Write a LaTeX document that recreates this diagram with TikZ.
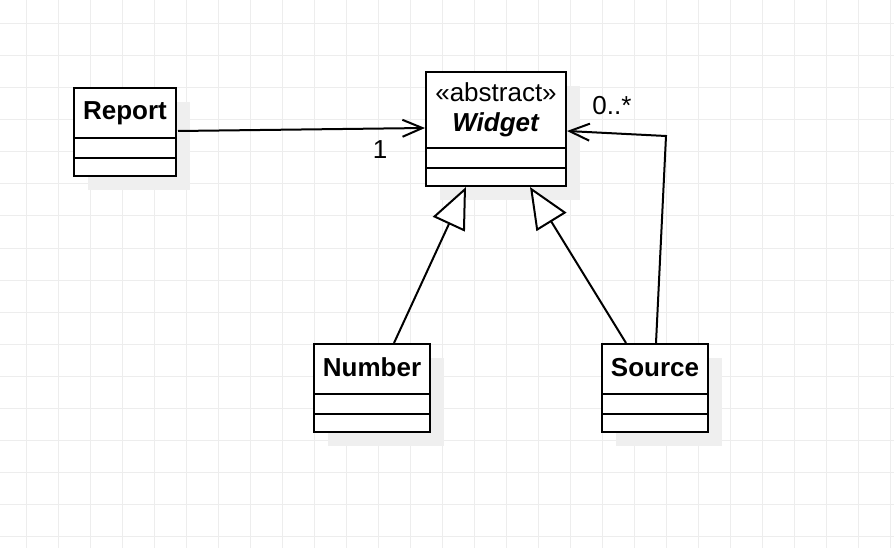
\documentclass[tikz,border=0pt]{standalone}
\usepackage{fontspec}
\setmainfont{Liberation Sans}
\usetikzlibrary{arrows.meta,calc}
\definecolor{gridc}{HTML}{EDEDED}
\definecolor{shadowc}{HTML}{EFEFEF}
\begin{document}
\begin{tikzpicture}[x=1pt,y=-1pt,
  hdr/.style={draw, fill=white, line width=2pt, inner sep=0pt, outer sep=0pt,
    anchor=north west, font=\fontsize{26}{30}\selectfont},
  onel/.style={text height=19pt, text depth=5pt},
  comp/.style={draw, fill=white, line width=2pt, inner sep=0pt, outer sep=0pt, anchor=north},
  shadowbox/.style={fill=shadowc},
  conn/.style={line width=2pt, line join=miter},
  assoc/.style={conn, -{Straight Barb[length=20pt, width=17pt]}},
  gener/.style={conn, -{Triangle[open, length=41pt, width=35pt, fill=white]}},
  lbl/.style={font=\fontsize{26}{30}\selectfont, inner sep=0pt}]
\useasboundingbox (0,0) rectangle (894,548);
\fill[white] (0,0) rectangle (894,548);
% grid
\foreach \x in {26,58,...,890} \draw[gridc, line width=1pt] (\x,0) -- (\x,548);
\foreach \y in {24,56,...,536} \draw[gridc, line width=1pt] (0,\y) -- (894,\y);
% shadows
\fill[shadowbox] (88,102) rectangle (190,190);
\fill[shadowbox] (440,86) rectangle (580,200);
\fill[shadowbox] (328,358) rectangle (444,446);
\fill[shadowbox] (616,358) rectangle (722,446);
% Report
\node[hdr, onel, minimum width=102pt, minimum height=50pt] (report) at (74,88) {\textbf{Report}};
\node[comp, minimum width=102pt, minimum height=20pt] (reporta) at (report.south) {};
\node[comp, minimum width=102pt, minimum height=18pt] (reportb) at (reporta.south) {};
% Widget
\node[hdr, align=center, minimum width=140pt, minimum height=76pt] (widget) at (426,72) {«abstract»\\\textbf{\textit{Widget}}};
\node[comp, minimum width=140pt, minimum height=20pt] (widgeta) at (widget.south) {};
\node[comp, minimum width=140pt, minimum height=18pt] (widgetb) at (widgeta.south) {};
% Number
\node[hdr, onel, minimum width=116pt, minimum height=50pt] (number) at (314,344) {\textbf{Number}};
\node[comp, minimum width=116pt, minimum height=20pt] (numbera) at (number.south) {};
\node[comp, minimum width=116pt, minimum height=18pt] (numberb) at (numbera.south) {};
% Source
\node[hdr, onel, minimum width=106pt, minimum height=50pt] (source) at (602,344) {\textbf{Source}};
\node[comp, minimum width=106pt, minimum height=20pt] (sourcea) at (source.south) {};
\node[comp, minimum width=106pt, minimum height=18pt] (sourceb) at (sourcea.south) {};
% connectors
\draw[assoc] ($(report.east)+(2,18)$) -- ($(widget.west)+(-1,18)$);
\node[lbl] (m1) at (380,150) {1};
\draw[gener] ($(number.north)+(22,-1)$) -- ($(widgetb.south)+(-30,1)$);
\draw[gener] ($(source.north)+(-29,-1)$) -- ($(widgetb.south)+(34,1)$);
\coordinate (bend) at (666,136);
\draw[assoc] ($(source.north)+(1,-1)$) -- (bend) -- ($(widget.east)+(1,21)$);
\node[lbl] (m2) at (612,106) {0..*};
\end{tikzpicture}
\end{document}
